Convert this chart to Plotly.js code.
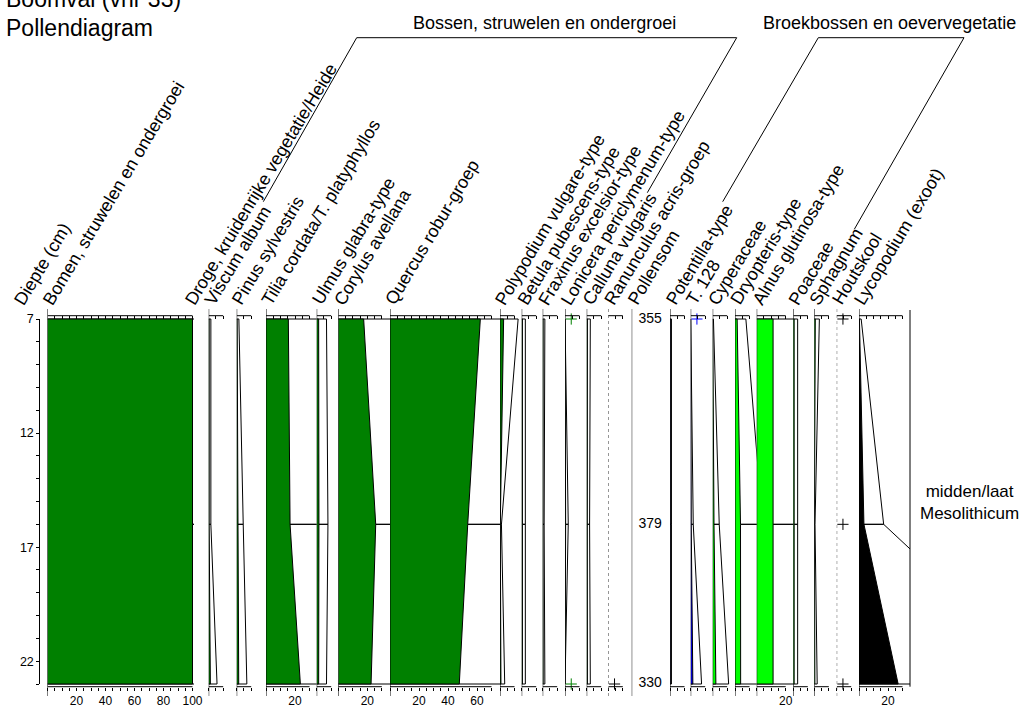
<!DOCTYPE html>
<html><head><meta charset="utf-8">
<script src="https://cdn.plot.ly/plotly-3.0.1.min.js"></script>
<style>html,body{margin:0;padding:0;background:#fff}#chart{width:1026px;height:707px}</style>
</head><body><div id="chart"></div>
<script>
// ---------- DATA ----------
const depths = [7, 16, 23];
const bomen = [100, 100, 100];
const viscumAlbum = [0.3, 0.3, 1.15];
const pinusSylvestris = [0.3, 0.9, 1.4];
const tilia = [15.4, 16.6, 23.7];
const ulmus = [1.35, 1.55, 1.35];
const corylus = [17.5, 25.8, 22.6];
const quercus = [62.3, 53.6, 47.8];
const polypodium = [2.5, 0.2, 0.65];
const betula = [0.5, 0.5, 0.5];
const fraxinus = [0.3, 0.2, 0.3];
const lonicera = [0, 0.45, 0];
const calluna = [0.5, 0.4, 0.5];
const ranunculus = [0, 0, 0];
const pollensom = [355, 379, 330];
const potentilla = [0.2, 0.2, 0.2];
const t128 = [0, 0.35, 1.5];
const cyperaceae = [0.1, 0.9, 2.2];
const dryopteris = [1.5, 3.8, 3.9];
const alnus = [11.3, 11.3, 11.3];
const poaceae = [0.6, 0.6, 0.6];
const sphagnum = [0.7, 0.1, 0.4];
const houtskool = [0, 0, 0];
const lycopodium = [0.3, 3.4, 27];
// presence markers (+)
const loniceraPresent = [1, 0, 1];
const ranunculusPresent = [0, 0, 1];
const t128Present = [1, 0, 0];
const houtskoolPresent = [1, 1, 1];
const depthTicks = [7,8,9,10,11,12,13,14,15,16,17,18,19,20,21,22,23];
const depthLabels = [7, 12, 17, 22];
const EXAG = 5;

// ---------- LAYOUT HELPERS ----------
const W = 1026, H = 707, K = 1.45;
const px = x => x / W, py = y => 1 - y / H;
const FONT = 'Liberation Sans, Arial, Helvetica, sans-serif';
const G = '#008000', LIME = '#00ff00', BLUE = '#0000ff', BK = '#000000';

const panels = [
  {name:'Bomen, struwelen en ondergroei', vals:bomen, left:47.5, right:194, axisEnd:100, color:G},
  {name:'Viscum album', vals:viscumAlbum, left:208.7, right:230.5, axisEnd:10, color:G},
  {name:'Pinus sylvestris', vals:pinusSylvestris, left:236.7, right:258.5, axisEnd:10, color:G},
  {name:'Tilia cordata/T. platyphyllos', vals:tilia, left:266, right:316.6, axisEnd:30, color:G},
  {name:'Ulmus glabra-type', vals:ulmus, left:316.7, right:338.3, axisEnd:10, color:G},
  {name:'Corylus avellana', vals:corylus, left:338.3, right:390, axisEnd:30, color:G},
  {name:'Quercus robur-groep', vals:quercus, left:390, right:500, axisEnd:70, color:G},
  {name:'Polypodium vulgare-type', vals:polypodium, left:500, right:521.7, axisEnd:10, color:G},
  {name:'Betula pubescens-type', vals:betula, left:521.7, right:542.7, axisEnd:10, color:G},
  {name:'Fraxinus excelsior-type', vals:fraxinus, left:542.7, right:565, axisEnd:10, color:G},
  {name:'Lonicera periclymenum-type', vals:lonicera, left:565, right:586.7, axisEnd:10, color:G, present:loniceraPresent, pcolor:G},
  {name:'Calluna vulgaris', vals:calluna, left:586.7, right:608.3, axisEnd:10, color:G},
  {name:'Ranunculus acris-groep', vals:ranunculus, left:608.3, right:631.7, axisEnd:10, color:G, dotted:true, present:ranunculusPresent, pcolor:BK},
  {name:'Pollensom', sum:pollensom, left:631.7, right:670},
  {name:'Potentilla-type', vals:potentilla, left:670, right:690.7, axisEnd:10, color:BLUE},
  {name:'T. 128', vals:t128, left:690.7, right:712.7, axisEnd:10, color:BLUE, present:t128Present, pcolor:BLUE},
  {name:'Cyperaceae', vals:cyperaceae, left:712.7, right:735, axisEnd:10, color:LIME},
  {name:'Dryopteris-type', vals:dryopteris, left:735, right:756.7, axisEnd:10, color:LIME},
  {name:'Alnus glutinosa-type', vals:alnus, left:756.7, right:793.5, axisEnd:20, color:LIME},
  {name:'Poaceae', vals:poaceae, left:793.3, right:814.3, axisEnd:10, color:LIME},
  {name:'Sphagnum', vals:sphagnum, left:814.3, right:836.7, axisEnd:10, color:LIME},
  {name:'Houtskool', vals:houtskool, left:836.7, right:859, axisEnd:10, color:BK, dotted:true, present:houtskoolPresent, pcolor:BK},
  {name:'Lycopodium (exoot)', vals:lycopodium, left:859, right:910, axisEnd:30, color:BK}
];

const AXIS_TOP = 315.7, AXIS_BOT = 686.7;
const LABEL_ANGLE = -59, LABEL_DX = 9.8, LABEL_Y = 311, LABEL_SIZE = 17.8;

const data = [], shapes = [], annotations = [];
const layout = {
  width: W, height: H, margin:{l:0,r:0,t:0,b:0},
  paper_bgcolor:'#fff', plot_bgcolor:'rgba(0,0,0,0)', showlegend:false,
  font:{family:FONT, color:'#000'},
  yaxis:{domain:[py(AXIS_BOT), py(AXIS_TOP)], range:[23.118, 6.855], visible:false, fixedrange:true},
  yaxis2:{domain:[py(684), py(319)], range:[23, 7], anchor:'free', position:px(39.3), side:'left',
    showline:true, linecolor:'#000', linewidth:1, ticks:'outside', ticklen:3, tickwidth:1, tickcolor:'#000',
    tickvals:depthTicks, ticktext:depthTicks.map(d => depthLabels.includes(d) ? String(d) : ''),
    tickfont:{size:12.5, color:'#000'}, showgrid:false, zeroline:false, fixedrange:true}
};
data.push({type:'scatter', x:[], y:[], xaxis:'x', yaxis:'y2', hoverinfo:'skip'});

function colLabel(text, xpx) {
  annotations.push({text:text, xref:'paper', yref:'paper', x:px(xpx - LABEL_DX), y:py(LABEL_Y),
    xanchor:'left', yanchor:'bottom', textangle:LABEL_ANGLE, showarrow:false, font:{size:LABEL_SIZE, color:'#000'}});
}

panels.forEach((p, i) => {
  const n = i + 1;
  const xid = n === 1 ? 'x' : 'x' + n;
  const key = n === 1 ? 'xaxis' : 'xaxis' + n;
  const wu = (p.right - p.left) / K;
  const dom = [px(p.left), px(p.right)];
  colLabel(p.name, p.left - 1.5);
  shapes.push({type:'line', xref:xid, yref:'paper', x0:0, x1:0, y0:py(696), y1:py(309),
    line:{color: p.dotted ? '#444' : '#000', width:1, dash: p.dotted ? 'dot' : 'solid'}});
  if (p.sum) {
    layout[key] = {domain:dom, range:[0,1], anchor:'y', visible:false, fixedrange:true};
    data.push({type:'scatter', mode:'text', x:p.sum.map(() => 0.48), y:depths, text:p.sum.map(String),
      textposition:'middle center', textfont:{size:14, color:'#000'}, cliponaxis:false, xaxis:xid, yaxis:'y', hoverinfo:'skip'});
    return;
  }
  const tv = [];
  for (let t = 0; t <= p.axisEnd + 1e-9; t += 5) tv.push(t);
  const tt = tv.map(t => (t > 0 && t % 20 === 0) ? String(t) : '');
  layout[key] = {domain:dom, range:[0, wu], anchor:'y', tickvals:tv, ticktext:tt, ticks:'outside', ticklen:3,
    tickwidth:1, tickcolor:'#000', showline:false, showgrid:false, zeroline:false,
    tickfont:{size:12, color:'#000'}, fixedrange:true};
  const tid = 'x' + (n + 40), tkey = 'xaxis' + (n + 40);
  layout[tkey] = {overlaying:xid, side:'top', anchor:'y', range:[0, wu], tickvals:tv, ticks:'inside', ticklen:3,
    tickwidth:1, tickcolor:'#000', showticklabels:false, showline:false, showgrid:false, zeroline:false, fixedrange:true};
  data.push({type:'scatter', x:[], y:[], xaxis:tid, yaxis:'y', hoverinfo:'skip'});
  [AXIS_TOP, AXIS_BOT].forEach(yy => shapes.push({type:'line', xref:xid, yref:'paper', x0:0, x1:p.axisEnd,
    y0:py(yy), y1:py(yy), line:{color:'#000', width:1}}));

  const anyVal = p.vals.some(v => v > 0);
  if (anyVal) {
    // exaggeration curve (x EXAG), outline only
    const ex = p.vals.map(v => v * EXAG);
    const ex_x = [0], ex_y = [depths[0]];
    p.vals.forEach((v, j) => {
      ex_x.push(ex[j]); ex_y.push(depths[j]);
      if (j > 0 && j < p.vals.length - 1) { ex_x.push(v, ex[j]); ex_y.push(depths[j], depths[j]); }
    });
    ex_x.push(0); ex_y.push(depths[depths.length - 1]);
    data.push({type:'scatter', mode:'lines', x:ex_x, y:ex_y, line:{color:'#000', width:1}, xaxis:xid, yaxis:'y', hoverinfo:'skip'});
    // real curve, filled
    data.push({type:'scatter', mode:'lines', x:[0, ...p.vals, 0], y:[depths[0], ...depths, depths[depths.length-1]],
      fill:'toself', fillcolor:p.color, line:{color:'#000', width:1}, xaxis:xid, yaxis:'y', hoverinfo:'skip'});
  }
  if (p.present) {
    const pd = depths.filter((d, j) => p.present[j]);
    data.push({type:'scatter', mode:'markers', x:pd.map(() => 4.3), y:pd, cliponaxis:false,
      marker:{symbol:'cross-thin', size:8, line:{color:p.pcolor, width:1}}, xaxis:xid, yaxis:'y', hoverinfo:'skip'});
  }
});

// extra column labels
colLabel('Diepte (cm)', 17);
colLabel('Droge, kruidenrijke vegetatie/Heide', 188);

// right edge of last panel (zone column border)
shapes.push({type:'line', xref:'paper', yref:'paper', x0:px(910), x1:px(910), y0:py(AXIS_BOT), y1:py(310), line:{color:'#000', width:1}});

// group brackets
function bracket(pts) {
  const d = pts.map((p, k) => (k ? 'L' : 'M') + px(p[0]) + ',' + py(p[1])).join(' ');
  shapes.push({type:'path', xref:'paper', yref:'paper', path:d, line:{color:'#000', width:1}});
}
bracket([[263.3,201.7],[356.7,37.7],[736.7,37.7],[647.3,192.7]]);
bracket([[722.7,201.7],[818.3,37.7],[964,37.7],[854.3,229.3]]);

annotations.push({text:'Bossen, struwelen en ondergroei', xref:'paper', yref:'paper', x:px(544), y:py(22.5),
  xanchor:'center', yanchor:'middle', showarrow:false, font:{size:18}});
annotations.push({text:'Broekbossen en oevervegetatie', xref:'paper', yref:'paper', x:px(889), y:py(22.5),
  xanchor:'center', yanchor:'middle', showarrow:false, font:{size:18}});
annotations.push({text:'Boomval (vnr 33)', xref:'paper', yref:'paper', x:px(4), y:py(-1),
  xanchor:'left', yanchor:'middle', showarrow:false, font:{size:23}});
annotations.push({text:'Pollendiagram', xref:'paper', yref:'paper', x:px(4), y:py(28),
  xanchor:'left', yanchor:'middle', showarrow:false, font:{size:23}});
annotations.push({text:'midden/laat<br>Mesolithicum', xref:'paper', yref:'paper', x:px(969), y:py(502),
  xanchor:'center', yanchor:'middle', align:'center', showarrow:false, font:{size:17}});

layout.shapes = shapes;
layout.annotations = annotations;
Plotly.newPlot('chart', data, layout, {staticPlot:true, displayModeBar:false});
</script>
</body></html>
